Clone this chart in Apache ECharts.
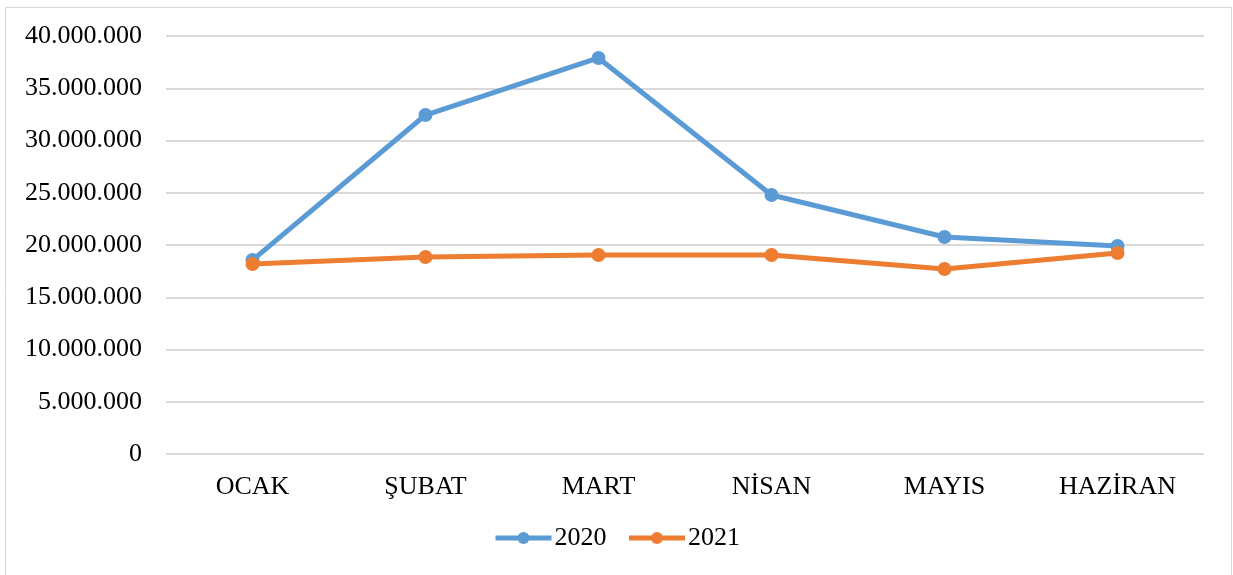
<!DOCTYPE html>
<html><head><meta charset="utf-8">
<script src="https://cdn.jsdelivr.net/npm/echarts@6/dist/echarts.min.js"></script>
<style>html,body{margin:0;padding:0;background:#fff}#c{width:1233px;height:575px}</style>
</head><body><div id="c"></div>
<script>
const categories = ['OCAK','ŞUBAT','MART','NİSAN','MAYIS','HAZİRAN'];
const series2020 = [18560000, 32440000, 37900000, 24780000, 20770000, 19900000];
const series2021 = [18180000, 18850000, 19040000, 19040000, 17700000, 19230000];
const yTicks = {min: 0, max: 40000000, interval: 5000000};

const chart = echarts.init(document.getElementById('c'));
const font = '"Liberation Serif", "Times New Roman", serif';
function fmt(v){ return String(v).replace(/\B(?=(\d{3})+(?!\d))/g, '.'); }
chart.setOption({
  animation: false,
  backgroundColor: '#fff',
  textStyle: {fontFamily: font},
  graphic: [{type:'rect', shape:{x:5.5,y:7.5,width:1226,height:580}, style:{fill:'none', stroke:'#d9d9d9', lineWidth:1}, silent:true}],
  grid: {left: 166, right: 29, top: 36, bottom: 121},
  legend: {
    data: ['2020','2021'], bottom: 19, left: 'center', itemWidth: 56, itemHeight: 15, itemGap: 20,
    lineStyle: {width: 5},
    textStyle: {fontFamily: font, fontSize: 26, color: '#000', padding: [0,0,0,-2]}
  },
  xAxis: {
    type: 'category', data: categories, boundaryGap: true,
    axisLine: {show: false}, axisTick: {show: false},
    axisLabel: {fontFamily: font, fontSize: 26, color: '#000', margin: 20}
  },
  yAxis: {
    type: 'value', min: yTicks.min, max: yTicks.max, interval: yTicks.interval,
    axisLine: {show: false}, axisTick: {show: false},
    splitLine: {lineStyle: {color: '#d9d9d9', width: 2}},
    axisLabel: {fontFamily: font, fontSize: 26, color: '#000', margin: 24, formatter: fmt}
  },
  series: [
    {name:'2020', type:'line', data: series2020, symbol:'circle', symbolSize: 14,
     lineStyle:{width:5, color:'#5B9BD5'}, itemStyle:{color:'#5B9BD5'}},
    {name:'2021', type:'line', data: series2021, symbol:'circle', symbolSize: 14,
     lineStyle:{width:5, color:'#ED7D31'}, itemStyle:{color:'#ED7D31'}}
  ]
});
</script></body></html>
